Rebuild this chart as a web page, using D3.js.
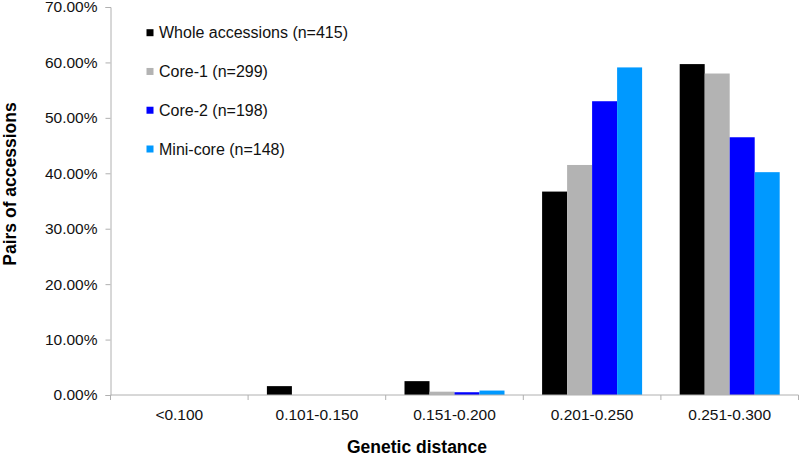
<!DOCTYPE html>
<html>
<head>
<meta charset="utf-8">
<script src="https://cdn.jsdelivr.net/npm/d3@7"></script>
<style>
  html, body { margin: 0; padding: 0; background: #fff; }
  svg { display: block; font-family: "Liberation Sans", Arial, Helvetica, sans-serif; }
</style>
</head>
<body>
<svg id="chart" width="800" height="456"></svg>
<script>
// ---- Data ----
const categories = ["<0.100", "0.101-0.150", "0.151-0.200", "0.201-0.250", "0.251-0.300"];
const seriesNames = ["Whole accessions (n=415)", "Core-1 (n=299)", "Core-2 (n=198)", "Mini-core (n=148)"];
const wholeValues = [0, 1.6, 2.5, 36.7, 59.7];
const core1Values = [0, 0, 0.6, 41.5, 58.0];
const core2Values = [0, 0, 0.5, 53.0, 46.5];
const miniValues  = [0, 0, 0.8, 59.1, 40.2];
const yTicks = [0, 10, 20, 30, 40, 50, 60, 70];
const colors = ["#000000", "#b3b3b3", "#0000ff", "#0099ff"];

const seriesValues = [wholeValues, core1Values, core2Values, miniValues];

// ---- Layout ----
const svg = d3.select("#chart");
const plotLeft = 110.5, plotRight = 798.5, plotTop = 7, plotBottom = 395;

const x0 = d3.scaleBand().domain(categories).range([plotLeft, plotRight]).paddingInner(0).paddingOuter(0);
const x1 = d3.scaleBand().domain(seriesNames).range([0, x0.bandwidth()]).paddingInner(0).paddingOuter(0.752);
const y = d3.scaleLinear().domain([0, 70]).range([plotBottom, plotTop]);

const axisColor = "#b0b0b0";

// Bars
const g = svg.append("g");
categories.forEach((cat, ci) => {
  seriesNames.forEach((s, si) => {
    const v = seriesValues[si][ci];
    if (v <= 0) return;
    g.append("rect")
      .attr("x", x0(cat) + x1(s))
      .attr("y", y(v))
      .attr("width", x1.bandwidth())
      .attr("height", y(0) - y(v))
      .attr("fill", colors[si]);
  });
});

// Y axis
const yAxis = d3.axisLeft(y).tickValues(yTicks).tickSize(5).tickPadding(8)
  .tickFormat(d => d3.format(".2f")(d) + "%");
const yg = svg.append("g").attr("transform", `translate(${plotLeft},0)`).call(yAxis);
yg.select(".domain").attr("stroke", axisColor);
yg.selectAll(".tick line").attr("stroke", axisColor);
yg.selectAll(".tick text").attr("font-size", "15.5px").attr("fill", "#111")
  .attr("font-family", '"Liberation Sans", Arial, sans-serif');

// X axis line
svg.append("line").attr("x1", plotLeft).attr("x2", plotRight).attr("y1", plotBottom).attr("y2", plotBottom)
  .attr("stroke", axisColor);
// X tick marks at band boundaries
const boundaries = categories.map(c => x0(c)).concat([plotRight]);
svg.selectAll(".xb").data(boundaries).enter().append("line")
  .attr("x1", d => d).attr("x2", d => d).attr("y1", plotBottom).attr("y2", plotBottom + 5)
  .attr("stroke", axisColor);
// X labels
svg.selectAll(".xl").data(categories).enter().append("text")
  .attr("x", d => x0(d) + x0.bandwidth() / 2)
  .attr("y", 419.5)
  .attr("text-anchor", "middle")
  .attr("font-size", "15.5px")
  .attr("fill", "#111")
  .text(d => d);

// Axis titles
svg.append("text").attr("x", 417).attr("y", 453).attr("text-anchor", "middle")
  .attr("font-size", "17.5px").attr("font-weight", "bold").attr("fill", "#000")
  .text("Genetic distance");
svg.append("text").attr("transform", "translate(16,184) rotate(-90)").attr("text-anchor", "middle")
  .attr("font-size", "17.5px").attr("font-weight", "bold").attr("fill", "#000")
  .text("Pairs of accessions");

// Legend
const legendY = d3.scalePoint().domain(seriesNames).range([32.7, 149]);
const lg = svg.append("g");
seriesNames.forEach((s, i) => {
  lg.append("rect").attr("x", 146.5).attr("y", legendY(s) - 3.5).attr("width", 7).attr("height", 7)
    .attr("fill", colors[i]);
  lg.append("text").attr("x", 159).attr("y", legendY(s)).attr("dy", "0.35em")
    .attr("font-size", "16px").attr("fill", "#111").text(s);
});
</script>
</body>
</html>
